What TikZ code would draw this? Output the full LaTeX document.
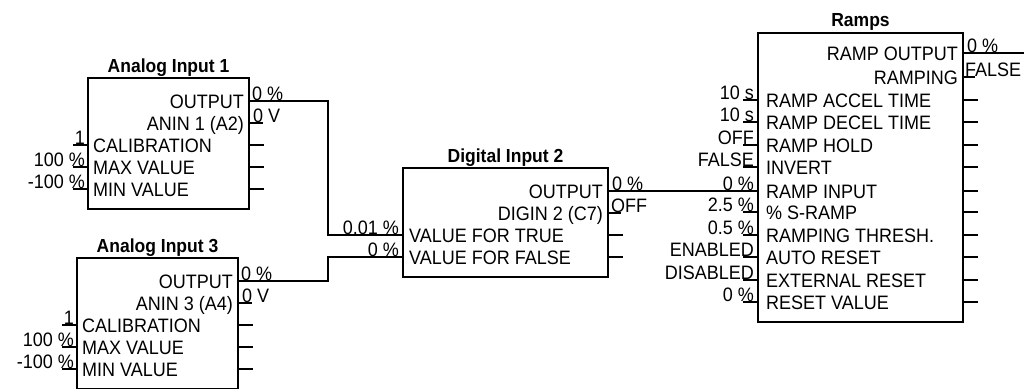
\documentclass[tikz,border=0pt]{standalone}
\usepackage{fontspec}
\setmainfont{Liberation Sans}
\newcommand{\tall}[1]{\scalebox{1}[1.08]{#1}}
\tikzset{
  blk/.style={draw, line width=1.5pt, anchor=north west, inner sep=0pt, outer sep=0pt},
  ttl/.style={font=\bfseries\fontsize{17.5}{20}\selectfont, anchor=base, inner sep=0pt},
  pin/.style={font=\fontsize{18}{20}\selectfont, inner sep=0pt},
  wire/.style={line width=1.3pt},
  stub/.style={line width=1.2pt},
}
\begin{document}
\begin{tikzpicture}[x=1pt,y=-1pt]
\useasboundingbox (0,0) rectangle (1024,388);
\clip (0,0) rectangle (1024,388);
\fill[white] (0,0) rectangle (1024,388);

% ---------------- Analog Input 1 ----------------
\node[blk, minimum width=161pt, minimum height=131pt] (A1) at (88,78) {};
\node[ttl] (A1t) at (168.5,72) {\tall{Analog Input 1}};
\node[pin, anchor=base east] (A1n1) at (244,108.5) {\tall{OUTPUT}};
\node[pin, anchor=base east] (A1n2) at (244,130.5) {\tall{ANIN 1 (A2)}};
\coordinate (A1p1) at (249,101);
\coordinate (A1p2) at (249,123);
\coordinate (A1s2) at (263,123);
\draw[stub] (A1p2) -- (A1s2);
\node[pin, anchor=base west] (A1v2) at (253,122) {\tall{0 V}};
\foreach \y/\v/\n [count=\i] in {145/1/CALIBRATION, 167/100 \%/MAX VALUE, 189/-100 \%/MIN VALUE}{
  \node[pin, anchor=base west] (A1in\i) at (93,\y+7.5) {\tall{\n}};
  \coordinate (A1l\i) at (88,\y);
  \coordinate (A1ls\i) at (73,\y);
  \coordinate (A1r\i) at (249,\y);
  \coordinate (A1rs\i) at (264,\y);
  \draw[stub] (A1ls\i) -- (A1l\i);
  \draw[stub] (A1r\i) -- (A1rs\i);
  \node[pin, anchor=base east] (A1iv\i) at (85,\y-0.5) {\tall{\v}};
}

% ---------------- Analog Input 3 ----------------
\node[blk, minimum width=161pt, minimum height=131pt] (A3) at (77,258) {};
\node[ttl] (A3t) at (157.5,252) {\tall{Analog Input 3}};
\node[pin, anchor=base east] (A3n1) at (233,288.5) {\tall{OUTPUT}};
\node[pin, anchor=base east] (A3n2) at (233,310.5) {\tall{ANIN 3 (A4)}};
\coordinate (A3p1) at (238,281);
\coordinate (A3p2) at (238,303);
\coordinate (A3s2) at (252,303);
\draw[stub] (A3p2) -- (A3s2);
\node[pin, anchor=base west] (A3v2) at (242,302) {\tall{0 V}};
\foreach \y/\v/\n [count=\i] in {325/1/CALIBRATION, 347/100 \%/MAX VALUE, 369/-100 \%/MIN VALUE}{
  \node[pin, anchor=base west] (A3in\i) at (82,\y+7.5) {\tall{\n}};
  \coordinate (A3l\i) at (77,\y);
  \coordinate (A3ls\i) at (62,\y);
  \coordinate (A3r\i) at (238,\y);
  \coordinate (A3rs\i) at (253,\y);
  \draw[stub] (A3ls\i) -- (A3l\i);
  \draw[stub] (A3r\i) -- (A3rs\i);
  \node[pin, anchor=base east] (A3iv\i) at (74,\y-0.5) {\tall{\v}};
}

% ---------------- Digital Input 2 ----------------
\node[blk, minimum width=205pt, minimum height=109pt] (DI) at (403,168) {};
\node[ttl] (DIt) at (505.5,162) {\tall{Digital Input 2}};
\node[pin, anchor=base east] (DIn1) at (603,198.5) {\tall{OUTPUT}};
\node[pin, anchor=base east] (DIn2) at (603,220.5) {\tall{DIGIN 2 (C7)}};
\node[pin, anchor=base west] (DIn3) at (409,242.5) {\tall{VALUE FOR TRUE}};
\node[pin, anchor=base west] (DIn4) at (409,264.5) {\tall{VALUE FOR FALSE}};
\coordinate (DIp1) at (608,191);
\coordinate (DIp2) at (608,213);
\coordinate (DIs2) at (621,213);
\draw[stub] (DIp2) -- (DIs2);
\node[pin, anchor=base west] (DIv2) at (611,212) {\tall{OFF}};
\coordinate (DIp3) at (403,235);
\coordinate (DIp4) at (403,257);
\coordinate (DIr3) at (608,235);
\coordinate (DIrs3) at (623,235);
\coordinate (DIr4) at (608,257);
\coordinate (DIrs4) at (623,257);
\draw[stub] (DIr3) -- (DIrs3);
\draw[stub] (DIr4) -- (DIrs4);

% ---------------- Ramps ----------------
\node[blk, minimum width=205pt, minimum height=289pt] (RA) at (758,33) {};
\node[ttl] (RAt) at (860.5,27) {\tall{Ramps}};
\node[pin, anchor=base east] (RAn1) at (958,60.5) {\tall{RAMP OUTPUT}};
\node[pin, anchor=base east] (RAn2) at (958,84.5) {\tall{RAMPING}};
\coordinate (RAp1) at (963,53);
\coordinate (RAend) at (1024,53);
\coordinate (RAp2) at (963,77);
\coordinate (RAs2) at (975,77);
\draw[stub] (RAp2) -- (RAs2);
\node[pin, anchor=base west] (RAv2) at (965,76) {\tall{FALSE}};
\node[pin, anchor=base west] (RAv1) at (967,52) {\tall{0 \%}};
\foreach \y/\n [count=\i] in {100/RAMP ACCEL TIME, 122/RAMP DECEL TIME, 145/RAMP HOLD, 167/INVERT, 191/RAMP INPUT, 212/\% S-RAMP, 235/RAMPING THRESH., 257/AUTO RESET, 280/EXTERNAL RESET, 302/RESET VALUE}{
  \node[pin, anchor=base west] (RAin\i) at (766,\y+7.5) {\tall{\n}};
  \coordinate (RAl\i) at (758,\y);
  \coordinate (RAr\i) at (963,\y);
  \coordinate (RArs\i) at (978,\y);
  \draw[stub] (RAr\i) -- (RArs\i);
}
\foreach \y/\v [count=\i] in {100/10 s, 122/10 s, 145/OFF, 167/FALSE, 212/2.5 \%, 235/0.5 \%, 257/ENABLED, 280/DISABLED, 302/0 \%}{
  \coordinate (RAq\i) at (758,\y);
  \coordinate (RAqs\i) at (743,\y);
  \draw[stub] (RAqs\i) -- (RAq\i);
  \node[pin, anchor=base east] (RAiv\i) at (754,\y-0.5) {\tall{\v}};
}

% ---------------- connectors ----------------
\coordinate (J1) at (328,101);
\coordinate (J2) at (328,281);
\draw[wire] (A1p1) -- (J1) |- (DIp3);
\node[pin, anchor=base west] (A1v1) at (252,100) {\tall{0 \%}};
\node[pin, anchor=base east] (DIv3) at (399,234) {\tall{0.01 \%}};

\draw[wire] (A3p1) -- (J2) |- (DIp4);
\node[pin, anchor=base west] (A3v1) at (241,280) {\tall{0 \%}};
\node[pin, anchor=base east] (DIv4) at (399,256) {\tall{0 \%}};

\draw[wire] (DIp1) -- (RAl5);
\node[pin, anchor=base west] (DIv1) at (612,190) {\tall{0 \%}};
\node[pin, anchor=base east] (RAv5) at (754,190) {\tall{0 \%}};

\draw[wire] (RAp1) -- (RAend);
\end{tikzpicture}
\end{document}
